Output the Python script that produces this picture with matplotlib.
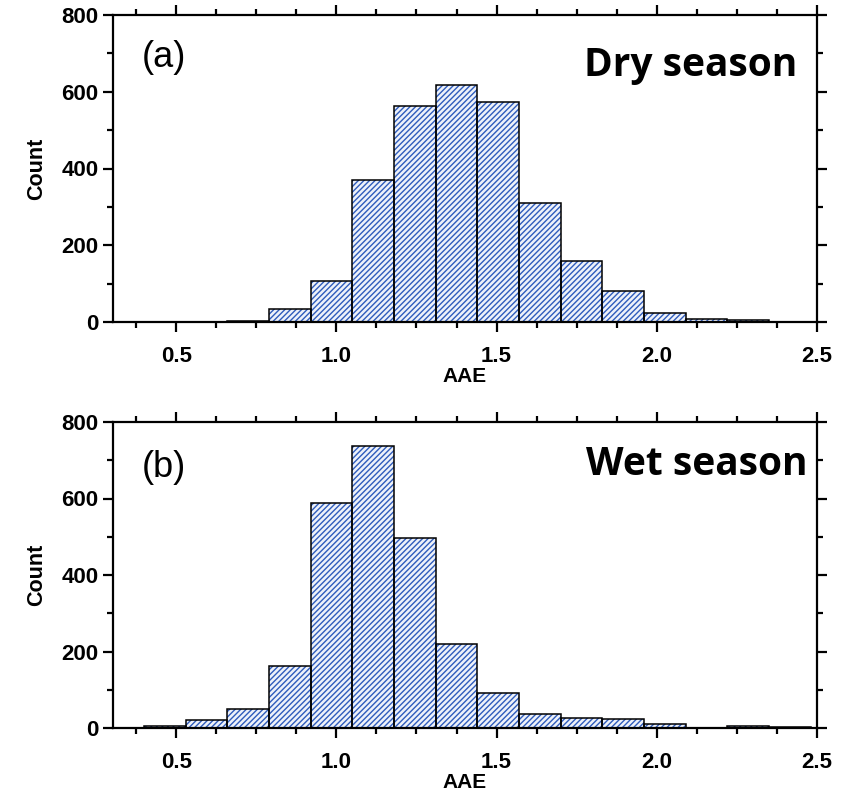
import numpy as np
import matplotlib.pyplot as plt
from matplotlib.ticker import MultipleLocator

# AAE histogram bins (left edges, width 0.13)
bin_left = [0.40, 0.53, 0.66, 0.79, 0.92, 1.05, 1.18, 1.31,
            1.44, 1.57, 1.70, 1.83, 1.96, 2.09, 2.22, 2.35]
bin_width = 0.13

dry_counts = [0, 0, 3, 33, 107, 369, 563, 617,
              572, 311, 158, 81, 23, 8, 6, 0]
wet_counts = [4, 21, 49, 162, 588, 736, 496, 220,
              92, 36, 26, 24, 11, 0, 5, 2]

# tag, season label, counts, (tag y, season x, season y) in axes fraction
panels = [('(a)', 'Dry season', dry_counts, (0.86, 0.972, 0.835)),
          ('(b)', 'Wet season', wet_counts, (0.852, 0.987, 0.862))]

plt.rcParams['font.family'] = ['Liberation Sans', 'DejaVu Sans']
plt.rcParams['hatch.linewidth'] = 1.0


def draw_hist(ax, counts, tag, season, pos):
    # hatched fill first, then black outlines on top
    ax.bar(bin_left, counts, width=bin_width, align='edge',
           facecolor='#eef2fa', edgecolor='#2f5cbc', hatch='//////',
           linewidth=0, zorder=2)
    ax.bar(bin_left, counts, width=bin_width, align='edge',
           facecolor='none', edgecolor='black', linewidth=1.1, zorder=3)

    ax.set_xlim(0.303, 2.5)
    ax.set_ylim(0, 800)
    ax.xaxis.set_major_locator(MultipleLocator(0.5))
    ax.xaxis.set_minor_locator(MultipleLocator(0.125))
    ax.yaxis.set_major_locator(MultipleLocator(200))
    ax.yaxis.set_minor_locator(MultipleLocator(100))
    ax.xaxis.set_major_formatter(plt.FormatStrFormatter('%.1f'))

    for s in ax.spines.values():
        s.set_linewidth(1.6)
    ax.tick_params(which='both', direction='out', top=True, right=True,
                   width=1.6, labelsize=16)
    ax.tick_params(which='major', length=7)
    ax.tick_params(which='minor', length=4)
    ax.tick_params(axis='x', which='major', pad=10)
    for lab in ax.get_xticklabels() + ax.get_yticklabels():
        lab.set_fontweight('bold')

    ax.set_xlabel('AAE', fontsize=15, fontweight='bold', labelpad=0.5)
    ax.set_ylabel('Count', fontsize=15.5, fontweight='bold', labelpad=10)

    ty, sx, sy = pos
    ax.text(0.041, ty, tag, transform=ax.transAxes, fontsize=26,
            ha='left', va='center')
    ax.text(sx, sy, season, transform=ax.transAxes, fontsize=28,
            fontweight='bold', family=['Open Sans', 'DejaVu Sans'],
            ha='right', va='center')


def main():
    fig = plt.figure(figsize=(8.46, 7.95), dpi=100)
    W, H = 846, 795
    boxes = [(113, 15, 817, 322), (113, 422, 817, 728)]
    for (x0, y0, x1, y1), (tag, season, counts, pos) in zip(boxes, panels):
        ax = fig.add_axes([x0 / W, 1 - y1 / H, (x1 - x0) / W, (y1 - y0) / H])
        draw_hist(ax, counts, tag, season, pos)
    fig.savefig('out.png', dpi=100)


if __name__ == '__main__':
    main()
